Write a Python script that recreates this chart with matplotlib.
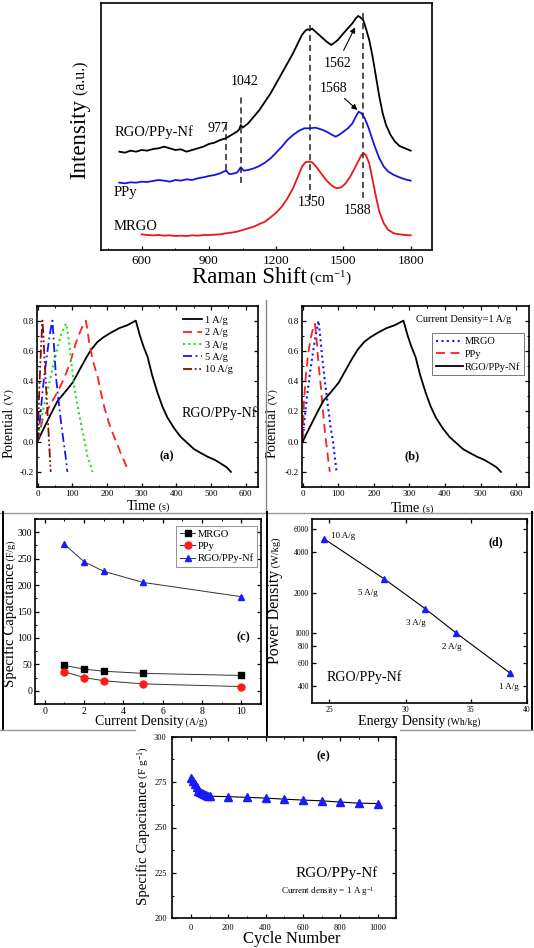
import matplotlib
matplotlib.use('Agg')
import matplotlib.pyplot as plt
from matplotlib.lines import Line2D
from matplotlib.ticker import FixedLocator, MultipleLocator, NullLocator, FuncFormatter

plt.rcParams['font.family'] = ['Liberation Serif', 'DejaVu Serif']
plt.rcParams['mathtext.fontset'] = 'custom'
plt.rcParams['mathtext.rm'] = 'Liberation Serif'
plt.rcParams['mathtext.it'] = 'Liberation Serif:italic'
plt.rcParams['mathtext.bf'] = 'Liberation Serif:bold'
plt.rcParams['axes.linewidth'] = 1.2

# ---- Raman spectra (intensity in arbitrary units)
rgo_shift = [500, 525, 550, 575, 600, 625, 650, 675, 700, 725, 750, 775, 800, 825, 850, 875,
             900, 925, 950, 975, 1000, 1025, 1035, 1042, 1050, 1075, 1100, 1125, 1150, 1175,
             1200, 1225, 1250, 1275, 1300, 1315, 1330, 1340, 1350, 1360, 1375, 1400, 1425,
             1445, 1460, 1475, 1500, 1520, 1540, 1555, 1565, 1575, 1588, 1600, 1615, 1630,
             1645, 1660, 1675, 1690, 1710, 1730, 1750, 1775, 1800]
rgo_int = [295, 292, 298, 295, 300, 298, 303, 305, 310, 305, 300, 302, 295, 300, 305, 310,
           318, 322, 330, 335, 345, 355, 362, 375, 367, 380, 400, 420, 445, 470,
           500, 530, 560, 590, 625, 645, 658, 662, 660, 664, 655, 640, 625,
           615, 622, 630, 650, 665, 680, 695, 702, 698, 690, 665, 630, 580,
           520, 460, 410, 375, 345, 325, 312, 305, 298]
ppy_shift = [500, 525, 550, 575, 600, 625, 650, 675, 700, 725, 750, 775, 800, 825, 850, 875,
             900, 925, 950, 965, 977, 990, 1000, 1025, 1042, 1055, 1075, 1100, 1125, 1150,
             1175, 1200, 1225, 1250, 1275, 1300, 1325, 1350, 1375, 1400, 1425, 1450, 1465,
             1480, 1500, 1520, 1540, 1555, 1568, 1580, 1595, 1610, 1625, 1640, 1660, 1680,
             1700, 1725, 1750, 1775, 1800]
ppy_int = [202, 200, 203, 202, 205, 204, 207, 210, 208, 205, 210, 208, 212, 210, 215, 218,
           222, 225, 230, 235, 238, 228, 228, 232, 248, 238, 240, 245, 252, 262,
           275, 292, 310, 330, 345, 357, 365, 365, 367, 362, 355, 345, 340,
           345, 355, 365, 380, 400, 415, 410, 395, 370, 340, 310, 275, 250,
           235, 225, 218, 212, 208]
mrgo_shift = [600, 625, 650, 675, 700, 725, 750, 775, 800, 825, 850, 875, 900, 925, 950, 975,
              1000, 1025, 1050, 1075, 1100, 1125, 1150, 1175, 1200, 1225, 1250, 1275, 1300,
              1315, 1330, 1345, 1360, 1375, 1400, 1425, 1450, 1470, 1490, 1510, 1530, 1550,
              1565, 1580, 1590, 1600, 1615, 1630, 1645, 1660, 1680, 1700, 1725, 1750, 1775, 1800]
mrgo_int = [47, 45, 44, 45, 43, 44, 42, 43, 42, 44, 43, 45, 45, 46, 47, 50,
            52, 55, 60, 65, 70, 78, 85, 98, 112, 130, 155, 185, 225,
            250, 263, 265, 263, 253, 230, 208, 192, 185, 188, 200, 220, 245,
            265, 285, 290, 285, 260, 210, 160, 115, 80, 60, 50, 47, 45, 44]
peak_pos = [977, 1042, 1350, 1588]
peak_top = [385, 465, 685, 720]
peak_bottom = [240, 202, 150, 155]

# ---- (a) charge/discharge at different current densities
t_1 = [0, 10, 25, 40, 58, 80, 101, 120, 139, 155, 173, 190, 211, 235, 259, 283, 295, 305, 317,
       330, 346, 360, 374, 393, 413, 432, 451, 470, 490, 510, 528, 545, 557]
v_1 = [0.0, 0.05, 0.12, 0.19, 0.27, 0.33, 0.39, 0.47, 0.55, 0.61, 0.66, 0.69, 0.72, 0.75, 0.77,
       0.80, 0.70, 0.63, 0.56, 0.44, 0.32, 0.23, 0.16, 0.09, 0.03, -0.01, -0.05, -0.075, -0.10,
       -0.12, -0.145, -0.17, -0.20]
t_2 = [0, 15, 38, 58, 77, 95, 110, 125, 139, 143, 149, 160, 173, 182, 192, 206, 221, 232, 240,
       250, 262]
v_2 = [0.0, 0.15, 0.25, 0.33, 0.42, 0.53, 0.65, 0.74, 0.80, 0.75, 0.65, 0.53, 0.43, 0.33, 0.23,
       0.12, 0.03, -0.03, -0.08, -0.13, -0.20]
t_3 = [0, 5, 15, 28, 38, 48, 58, 70, 82, 86, 91, 98, 106, 115, 125, 135, 144, 152, 158]
v_3 = [0.0, 0.08, 0.2, 0.33, 0.43, 0.53, 0.63, 0.72, 0.78, 0.74, 0.65, 0.51, 0.36, 0.24, 0.12,
       0.01, -0.10, -0.15, -0.20]
t_5 = [0, 5, 12, 19, 27, 34, 40, 43, 47, 53, 60, 67, 75, 81, 86]
v_5 = [0.0, 0.1, 0.27, 0.43, 0.57, 0.69, 0.77, 0.80, 0.65, 0.43, 0.28, 0.14, 0.0, -0.1, -0.2]
t_10 = [0, 3, 6, 10, 14, 17, 20, 24, 28, 32, 35, 38]
v_10 = [0.0, 0.2, 0.4, 0.62, 0.80, 0.70, 0.55, 0.38, 0.22, 0.05, -0.08, -0.2]

# ---- (b) comparison at 1 A/g
t_mrgo = [0, 5, 12, 20, 28, 36, 44, 48, 55, 62, 70, 78, 85, 90, 95]
v_mrgo = [0.0, 0.15, 0.3, 0.45, 0.58, 0.7, 0.8, 0.72, 0.55, 0.4, 0.25, 0.1, 0.0, -0.1, -0.2]
t_ppy = [0, 3, 8, 15, 22, 29, 34, 38, 43, 50, 57, 63, 69, 76]
v_ppy = [0.02, 0.25, 0.42, 0.58, 0.68, 0.75, 0.78, 0.70, 0.55, 0.38, 0.2, 0.05, -0.07, -0.2]

# ---- (c) rate capability
current = [1, 2, 3, 5, 10]
cap_mrgo = [48, 41, 37, 33, 29]
cap_ppy = [36, 25, 19, 13, 8]
cap_comp = [277, 244, 226, 205, 178]

# ---- (d) Ragone
energy = [24.7, 28.5, 31.4, 33.8, 38.4]
power = [5050, 2530, 1520, 1000, 503]
rate_labels = ['10 A/g', '5 A/g', '3 A/g', '2 A/g', '1 A/g']
label_offsets = [(5, 2), (-12, -10), (-7, -10), (-3, -10), (-1, -10)]

# ---- (e) cycling
cycles = [0, 10, 20, 30, 40, 50, 60, 70, 80, 90, 100, 200, 300, 400, 500, 600, 700, 800, 900, 1000]
cyc_cap = [277, 275.5, 274, 272.5, 270, 269.5, 269, 268.5, 268, 267.5, 267.2, 267.0, 266.6,
           266.2, 265.6, 265.1, 264.7, 264.0, 263.4, 263.2]

W, H = 534, 948
fig = plt.figure(figsize=(W / 100, H / 100), dpi=100)


def px_axes(l, t, r, b):
    return fig.add_axes([l / W, 1 - b / H, (r - l) / W, (b - t) / H])


def style(ax, fs, pad=2):
    ax.tick_params(which='both', direction='in', top=True, right=True, labelsize=fs, pad=pad)
    ax.tick_params(which='major', length=3, width=0.9)
    ax.tick_params(which='minor', length=1.6, width=0.7)


def mixed_label(ax, x, y, big, small, fs, fs2, vertical=False):
    rot = 90 if vertical else 0
    t = ax.text(x, y, big, transform=ax.transAxes, fontsize=fs, rotation=rot,
                rotation_mode='anchor', ha='center', va='baseline')
    bb = t.get_window_extent(fig.canvas.get_renderer())
    x0, y0 = ax.transAxes.transform((x, y))
    if vertical:
        x2, y2 = ax.transAxes.inverted().transform((x0, bb.y1))
    else:
        x2, y2 = ax.transAxes.inverted().transform((bb.x1, y0))
    ax.text(x2, y2, ' ' + small, transform=ax.transAxes, fontsize=fs2, rotation=rot,
            rotation_mode='anchor', ha='left', va='baseline')


# ================= Raman =================
ax = px_axes(100.7, 3.3, 432, 250)
ax.plot(rgo_shift, rgo_int, color='black', lw=1.3)
ax.plot(ppy_shift, ppy_int, color='#1515e0', lw=1.3)
ax.plot(mrgo_shift, mrgo_int, color='#e81818', lw=1.3)
ax.vlines(peak_pos, peak_bottom, peak_top, colors='#222222', linestyles=(0, (4, 2.5)), lw=1.1)
ax.set_xlim(417, 1895)
ax.set_ylim(0, 740)
ax.xaxis.set_major_locator(MultipleLocator(300))
ax.xaxis.set_minor_locator(MultipleLocator(150))
ax.set_xticks([600, 900, 1200, 1500, 1800])
style(ax, 9.5, pad=3.5)
ax.tick_params(left=False, right=False, top=False, labelleft=False, which='both')
ax.text(481, 355, 'RGO/PPy-Nf', fontsize=10.5, va='center', ha='left')
ax.text(474, 172, 'PPy', fontsize=10.5, va='center', ha='left')
ax.text(474, 70, 'MRGO', fontsize=10.5, va='center', ha='left')
ax.text(941, 365, '977', fontsize=10, ha='center', va='center')
ax.text(1060, 505, '1042', fontsize=10, ha='center', va='center')
ax.text(1357, 143, '1350', fontsize=10, ha='center', va='center')
ax.text(1565, 118, '1588', fontsize=10, ha='center', va='center')
ax.annotate('1562', xy=(1552, 668), xytext=(1472, 560), fontsize=10, ha='center', va='center',
            arrowprops=dict(arrowstyle='-|>', color='black', lw=0.8, mutation_scale=8,
                            shrinkA=3, shrinkB=0))
ax.annotate('1568', xy=(1562, 420), xytext=(1454, 485), fontsize=10, ha='center', va='center',
            arrowprops=dict(arrowstyle='-|>', color='black', lw=0.8, mutation_scale=8,
                            shrinkA=1, shrinkB=0))
mixed_label(ax, 0.4476, -0.1336, 'Raman Shift', r'(cm$^{-1}$)', 16.5, 11)
mixed_label(ax, -0.047, 0.4506, 'Intensity', '(a.u.)', 16.5, 11.5, vertical=True)

# ================= (a) =================
ax = px_axes(36.5, 305.5, 258, 487)
ax.plot(t_1, v_1, color='black', lw=1.3, label='1 A/g')
ax.plot(t_2, v_2, color='#ff2020', lw=1.3, ls=(0, (5, 3)), label='2 A/g')
ax.plot(t_3, v_3, color='#20e020', lw=1.5, ls=(0, (1, 1.6)), label='3 A/g')
ax.plot(t_5, v_5, color='#1515ff', lw=1.3, ls=(0, (5, 2, 1, 2)), label='5 A/g')
ax.plot(t_10, v_10, color='#8b0a0a', lw=1.3, ls=(0, (5, 1.5, 1, 1.5, 1, 1.5)), label='10 A/g')
ax.set_xlim(-3, 635)
ax.set_ylim(-0.3, 0.9)
ax.xaxis.set_major_locator(MultipleLocator(100))
ax.xaxis.set_minor_locator(MultipleLocator(50))
ax.yaxis.set_major_locator(MultipleLocator(0.2))
ax.yaxis.set_minor_locator(MultipleLocator(0.1))
ax.yaxis.set_major_formatter(FuncFormatter(lambda v, p: f'{v:.1f}'))
style(ax, 6.5)
ax.legend(loc='upper right', bbox_to_anchor=(0.885, 0.945), frameon=False, fontsize=7.5,
          handlelength=1.8, handletextpad=0.3, labelspacing=0.3, borderaxespad=0, borderpad=0)
ax.text(0.824, 0.405, 'RGO/PPy-Nf', transform=ax.transAxes, fontsize=10, ha='center', va='center')
ax.text(0.588, 0.167, '(a)', transform=ax.transAxes, fontsize=9, fontweight='bold',
        ha='center', va='center')
mixed_label(ax, 0.475, -0.126, 'Time', '(s)', 10.2, 7.5)
mixed_label(ax, -0.11, 0.30, 'Potential', '(V)', 10.3, 7.8, vertical=True)

# ================= (b) =================
ax = px_axes(301.7, 305.5, 529, 487)
ax.plot(t_mrgo, v_mrgo, color='#1515ff', lw=1.5, ls=(0, (1, 1.6)), label='MRGO')
ax.plot(t_ppy, v_ppy, color='#ff2020', lw=1.3, ls=(0, (5, 3)), label='PPy')
ax.plot(t_1, v_1, color='black', lw=1.3, label='RGO/PPy-Nf')
ax.set_xlim(-3, 636)
ax.set_ylim(-0.3, 0.9)
ax.xaxis.set_major_locator(MultipleLocator(100))
ax.xaxis.set_minor_locator(MultipleLocator(50))
ax.yaxis.set_major_locator(MultipleLocator(0.2))
ax.yaxis.set_minor_locator(MultipleLocator(0.1))
ax.yaxis.set_major_formatter(FuncFormatter(lambda v, p: f'{v:.1f}'))
style(ax, 6.5)
leg = ax.legend(loc='upper right', bbox_to_anchor=(0.978, 0.846), fontsize=7.5, fancybox=False,
                handlelength=2.6, handletextpad=0.2, labelspacing=0.3, borderaxespad=0,
                borderpad=0.35)
leg.get_frame().set_edgecolor('#555555')
leg.get_frame().set_linewidth(0.7)
ax.text(0.714, 0.921, 'Current Density=1 A/g', transform=ax.transAxes, fontsize=7.5,
        ha='center', va='center')
ax.text(0.487, 0.167, '(b)', transform=ax.transAxes, fontsize=9, fontweight='bold',
        ha='center', va='center')
mixed_label(ax, 0.4575, -0.136, 'Time', '(s)', 10.2, 7.5)
mixed_label(ax, -0.113, 0.30, 'Potential', '(V)', 10.3, 7.8, vertical=True)

# ================= (c) =================
ax = px_axes(35, 519, 261, 704)
ax.plot(current, cap_mrgo, color='#333333', lw=0.7, marker='s', mfc='black', mec='black',
        ms=4.5, label='MRGO')
ax.plot(current, cap_ppy, color='#333333', lw=0.7, marker='o', mfc='#ff1a1a', mec='#ff1a1a',
        ms=5, label='PPy')
ax.plot(current, cap_comp, color='#333333', lw=0.7, marker='^', mfc='#1a1aff', mec='#1a1aff',
        ms=5, label='RGO/PPy-Nf')
ax.set_xlim(-0.5, 11)
ax.set_ylim(-25, 325)
ax.xaxis.set_major_locator(MultipleLocator(2))
ax.xaxis.set_minor_locator(MultipleLocator(1))
ax.yaxis.set_major_locator(MultipleLocator(50))
ax.yaxis.set_minor_locator(MultipleLocator(25))
style(ax, 7)
leg = ax.legend(loc='upper right', bbox_to_anchor=(0.984, 0.962), fontsize=7.6, fancybox=False,
                handlelength=1.5, handletextpad=0.2, labelspacing=0.25, borderaxespad=0,
                borderpad=0.35)
leg.get_frame().set_edgecolor('#777777')
leg.get_frame().set_linewidth(0.7)
ax.text(0.92, 0.362, '(c)', transform=ax.transAxes, fontsize=9, fontweight='bold',
        ha='center', va='center')
mixed_label(ax, 0.46, -0.1135, 'Current Density', '(A/g)', 9.9, 7.2)
mixed_label(ax, -0.095, 0.4276, 'Specific Capacitance', '(F/g)', 10.6, 7.2, vertical=True)

# ================= (d) =================
ax = px_axes(312, 519, 527, 703)
ax.plot(energy, power, color='black', lw=0.8, marker='^', mfc='#1a1aff', mec='#1a1aff', ms=5)
ax.set_xscale('log')
ax.set_yscale('log')
ax.set_xlim(24, 40)
ax.set_ylim(300, 7100)
ax.xaxis.set_major_locator(FixedLocator([25, 30, 35, 40]))
ax.yaxis.set_major_locator(FixedLocator([400, 600, 800, 1000, 2000, 4000, 6000]))
ax.xaxis.set_minor_locator(NullLocator())
ax.yaxis.set_minor_locator(NullLocator())
ax.xaxis.set_major_formatter(FuncFormatter(lambda v, p: f'{v:g}'))
ax.yaxis.set_major_formatter(FuncFormatter(lambda v, p: f'{v:g}'))
style(ax, 5.5)
for e, p, lab, off in zip(energy, power, rate_labels, label_offsets):
    ax.annotate(lab, xy=(e, p), xytext=off, textcoords='offset points', fontsize=6.5,
                ha='left' if off[0] > 0 else 'center', va='center')
ax.text(0.857, 0.873, '(d)', transform=ax.transAxes, fontsize=8.5, fontweight='bold',
        ha='center', va='center')
ax.text(0.245, 0.14, 'RGO/PPy-Nf', transform=ax.transAxes, fontsize=10, ha='center', va='center')
mixed_label(ax, 0.416, -0.12, 'Energy Density', '(Wh/kg)', 10.1, 7)
mixed_label(ax, -0.1535, 0.467, 'Power Density', '(W/kg)', 11.5, 7.5, vertical=True)

# ================= (e) =================
ax = px_axes(172.3, 736.7, 396.4, 918.3)
ax.plot(cycles, cyc_cap, color='black', lw=0.8, marker='^', mfc='#1a1aff', mec='#1a1aff', ms=5.5)
ax.set_xlim(-100, 1100)
ax.set_ylim(200, 300)
ax.xaxis.set_major_locator(MultipleLocator(200))
ax.xaxis.set_minor_locator(MultipleLocator(100))
ax.yaxis.set_major_locator(MultipleLocator(25))
ax.yaxis.set_minor_locator(MultipleLocator(12.5))
style(ax, 6, pad=4)
ax.text(0.674, 0.89, '(e)', transform=ax.transAxes, fontsize=9, fontweight='bold',
        ha='center', va='center')
ax.text(0.734, 0.251, 'RGO/PPy-Nf', transform=ax.transAxes, fontsize=11, ha='center', va='center')
ax.text(0.695, 0.15, 'Current density = 1 A g$^{-1}$', transform=ax.transAxes, fontsize=6.5,
        ha='center', va='center')
ax.text(0.533, -0.136, 'Cycle Number', transform=ax.transAxes, fontsize=12, ha='center',
        va='baseline')
mixed_label(ax, -0.113, 0.415, 'Specific Capacitance', r'(F g$^{-1}$)', 10.6, 8, vertical=True)

# ---- panel frames from the original composite
def fig_line(x0, y0, x1, y1, color, lw):
    fig.add_artist(Line2D([x0 / W, x1 / W], [1 - y0 / H, 1 - y1 / H], color=color, lw=lw,
                          transform=fig.transFigure))


fig_line(266, 300, 266, 512, '#888888', 1.0)
fig_line(0, 512.5, 534, 512.5, '#999999', 1.0)
fig_line(2.5, 512, 2.5, 730, 'black', 1.4)
fig_line(267, 512, 267, 735, 'black', 1.4)
fig_line(532, 512, 532, 730, 'black', 1.4)
fig_line(0, 730, 135, 730, '#999999', 1.0)
fig_line(400, 730, 534, 730, '#999999', 1.0)

fig.savefig('out.png', dpi=100)
